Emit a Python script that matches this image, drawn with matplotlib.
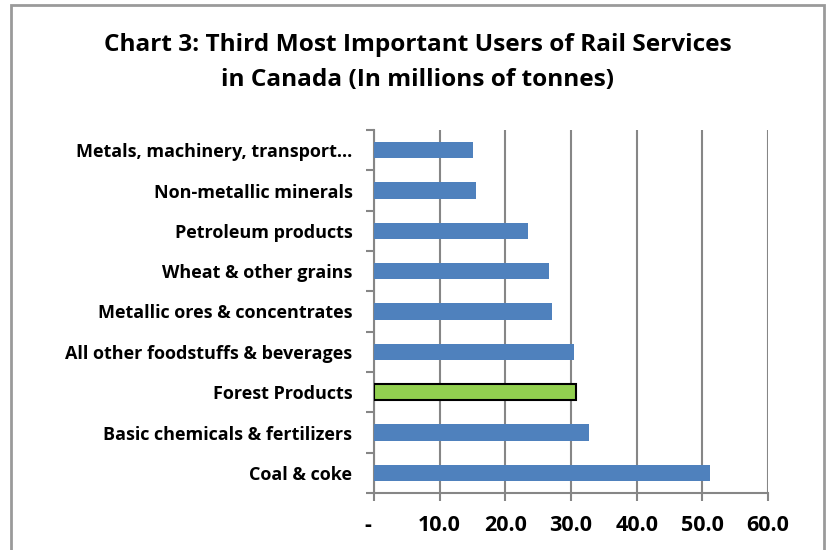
import matplotlib.pyplot as plt
import matplotlib.transforms as mtransforms
from matplotlib.patches import Rectangle

# Commodities, bottom to top, tonnes in millions
categories = ["Coal & coke", "Basic chemicals & fertilizers", "Forest Products",
              "All other foodstuffs & beverages", "Metallic ores & concentrates",
              "Wheat & other grains", "Petroleum products", "Non-metallic minerals",
              "Metals, machinery, transport…"]
tonnes = [51.2, 32.8, 30.8, 30.4, 27.1, 26.6, 23.5, 15.5, 15.1]
highlight = "Forest Products"
xticks = [0, 10, 20, 30, 40, 50, 60]
xtick_labels = ["-", "10.0", "20.0", "30.0", "40.0", "50.0", "60.0"]

plt.rcParams["font.family"] = ["Open Sans", "DejaVu Sans"]
plt.rcParams["font.weight"] = "bold"

fig = plt.figure(figsize=(8.29, 5.5), dpi=100)
ax = fig.add_axes([374 / 829, 1 - 493 / 550, 394 / 829, 363 / 550])

# outer frame (runs off the bottom edge)
fig.patches.append(Rectangle((11 / 829, -0.1), 813 / 829, 1.1 - 5 / 550,
                             transform=fig.transFigure, fill=False,
                             edgecolor="#9a9a9a", linewidth=2))

y = range(len(categories))
colors = ["#92d050" if c == highlight else "#4f81bd" for c in categories]
edges = ["black" if c == highlight else "#4f81bd" for c in categories]
ax.barh(y, tonnes, height=0.4, color=colors, edgecolor=edges,
        linewidth=[1.5 if c == highlight else 0 for c in categories], zorder=3)

ax.set_xlim(0, 60)
ax.set_ylim(-0.5, len(categories) - 0.5)
ax.set_xticks(xticks)
ax.set_xticklabels(xtick_labels, fontsize=15.5, fontweight="bold")
ax.set_yticks(y)
ax.set_yticklabels(categories, fontsize=13, fontweight="bold")
ax.tick_params(axis="y", length=0, pad=15.5)
ax.tick_params(axis="x", length=6, color="#868686", width=1.5, pad=10)

# the "-" zero label sits a little left of the axis
zero_label = ax.get_xticklabels()[0]
zero_label.set_transform(zero_label.get_transform() +
                         mtransforms.ScaledTranslation(-6 / 100, 0, fig.dpi_scale_trans))

# category separator ticks on the left spine
ax.set_yticks([i - 0.5 for i in range(len(categories) + 1)], minor=True)
ax.tick_params(axis="y", which="minor", length=6, color="#868686", width=1.5)

ax.grid(axis="x", color="#868686", linewidth=1.5, zorder=0)
for side in ["top", "right"]:
    ax.spines[side].set_visible(False)
for side in ["left", "bottom"]:
    ax.spines[side].set_color("#868686")
    ax.spines[side].set_linewidth(1.5)

fig.text(418 / 829, 1 - 45 / 550, "Chart 3: Third Most Important Users of Rail Services",
         ha="center", va="center", fontsize=17.6, fontweight="bold")
fig.text(418 / 829, 1 - 80 / 550, "in Canada (In millions of tonnes)",
         ha="center", va="center", fontsize=17.6, fontweight="bold")

fig.savefig("out.png", dpi=100)
